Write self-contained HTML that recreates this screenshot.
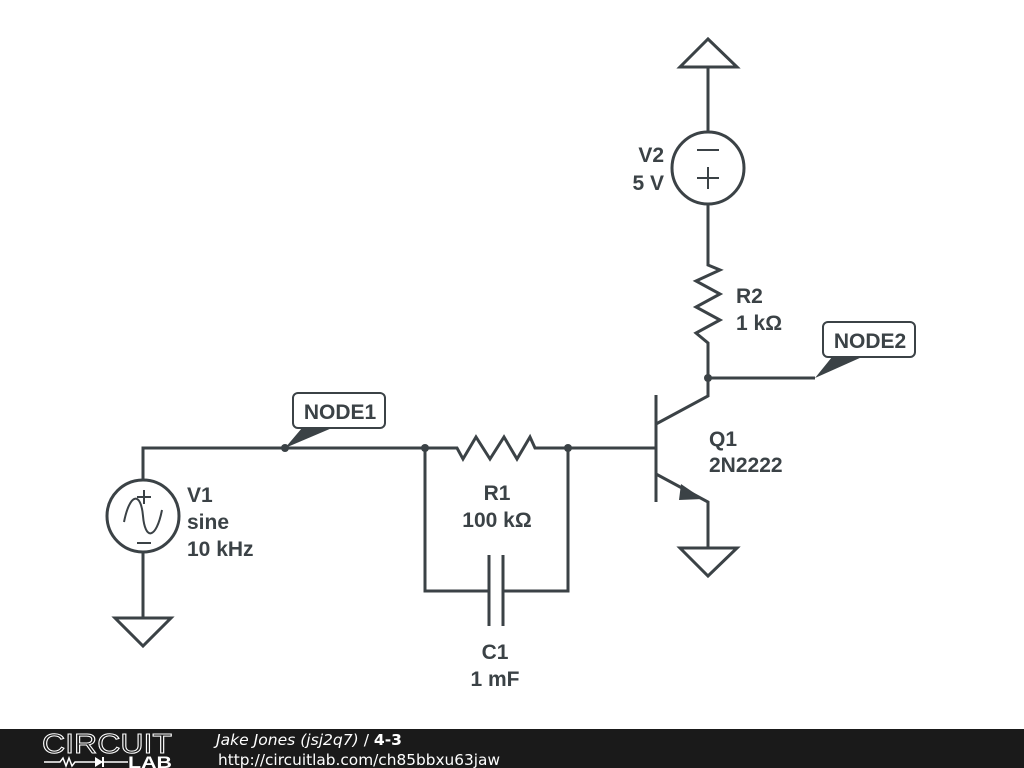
<!DOCTYPE html>
<html><head><style>
body{margin:0;width:1024px;height:768px;background:#fff;overflow:hidden;position:relative;font-family:"Liberation Sans",sans-serif}
.bar{position:absolute;left:0;top:729px;width:1024px;height:39px;background:#1a1a1a}
</style></head><body>
<svg width="1024" height="768" style="position:absolute;left:0;top:0">
<g stroke="#3b4246" stroke-width="3" fill="none" stroke-linejoin="miter">
<polyline points="143,480 143,448 425,448"/>
<circle cx="143" cy="516" r="36"/>
<line x1="143" y1="552" x2="143" y2="618"/>
<polygon points="115,618 171,618 143,646"/>
<path d="M124,522 C130,492 141,492 143,516 C145,540 156,540 162,510" stroke-width="2"/>
<line x1="137" y1="497" x2="151" y2="497" stroke-width="2"/>
<line x1="144" y1="490" x2="144" y2="504" stroke-width="2"/>
<line x1="137" y1="543" x2="151" y2="543" stroke-width="2"/>
<polyline points="425,448 457,448 463,459 476,437 490,459 504,437 517,459 530,437 535,448 656,448"/>
<polyline points="425,448 425,591 489,591"/>
<polyline points="568,448 568,591 503,591"/>
<line x1="489" y1="555" x2="489" y2="626"/>
<line x1="503" y1="555" x2="503" y2="626"/>
<line x1="656" y1="395" x2="656" y2="502"/>
<polyline points="656,424 708,396 708,348"/>
<polyline points="656,474 708,502 708,548"/>
<polygon points="680,548 737,548 708,576"/>
<line x1="708" y1="378" x2="815" y2="378"/>
<polyline points="708,348 708,343 696,333 720,320 696,307 720,294 696,281 720,270 708,265 708,204"/>
<circle cx="708" cy="168" r="36"/>
<line x1="708" y1="132" x2="708" y2="67"/>
<polygon points="680,67 737,67 708,39"/>
<line x1="697" y1="150" x2="719" y2="150" stroke-width="2"/>
<line x1="697" y1="178" x2="719" y2="178" stroke-width="2"/>
<line x1="708" y1="167" x2="708" y2="189" stroke-width="2"/>
<rect x="293" y="393" width="92" height="35" rx="5" fill="#fff" stroke-width="2"/>
<rect x="823" y="322" width="92" height="35" rx="5" fill="#fff" stroke-width="2"/>
</g>
<g fill="#3b4246">
<polygon points="681,484 703,499 679,500"/>
<polygon points="285,448 302,428 332,428"/>
<polygon points="815,378 832,357 862,357"/>
<circle cx="285" cy="448" r="4"/><circle cx="425" cy="448" r="4"/><circle cx="568" cy="448" r="4"/><circle cx="708" cy="378" r="4"/>
</g>
<g font-family="Liberation Sans, sans-serif" font-weight="bold" font-size="21" fill="#3b4246">
<text x="340" y="419" text-anchor="middle">NODE1</text>
<text x="870" y="348" text-anchor="middle">NODE2</text>
<text x="187" y="502">V1</text><text x="187" y="529">sine</text><text x="187" y="556">10 kHz</text>
<text x="497" y="500" text-anchor="middle">R1</text><text x="497" y="527" text-anchor="middle">100 kΩ</text>
<text x="495" y="659" text-anchor="middle">C1</text><text x="495" y="686" text-anchor="middle">1 mF</text>
<text x="709" y="446">Q1</text><text x="709" y="472">2N2222</text>
<text x="736" y="303">R2</text><text x="736" y="330">1 kΩ</text>
<text x="664" y="162" text-anchor="end">V2</text><text x="664" y="190" text-anchor="end">5 V</text>
</g>
</svg>
<div class="bar"></div>
<svg width="1024" height="39" style="position:absolute;left:0;top:729px">
<text x="42" y="24" font-family="Liberation Sans, sans-serif" font-size="28" fill="none" stroke="#fff" stroke-width="1" textLength="130" lengthAdjust="spacingAndGlyphs">CIRCUIT</text>
<polyline points="44,33 60,33 63,29 66,37 69,29 72,37 75,33 85,33" stroke="#fff" fill="none" stroke-width="1.5"/>
<polygon points="95,28 95,38 103,33" fill="#fff"/><line x1="103" y1="28" x2="103" y2="38" stroke="#fff" stroke-width="2"/>
<line x1="85" y1="33" x2="128" y2="33" stroke="#fff" stroke-width="1.5"/>
<text x="128" y="39" font-family="Liberation Sans, sans-serif" font-weight="bold" font-size="17" fill="#fff" textLength="44" lengthAdjust="spacingAndGlyphs">LAB</text>
<text x="216" y="16" font-family="DejaVu Sans, sans-serif" font-size="15" fill="#fff" textLength="186" lengthAdjust="spacingAndGlyphs"><tspan font-style="italic">Jake Jones (jsj2q7)</tspan> / <tspan font-weight="bold">4-3</tspan></text>
<text x="218" y="36" font-family="DejaVu Sans, sans-serif" font-size="15.5" fill="#fff" textLength="282" lengthAdjust="spacingAndGlyphs">http://circuitlab.com/ch85bbxu63jaw</text>
</svg>
</body></html>
